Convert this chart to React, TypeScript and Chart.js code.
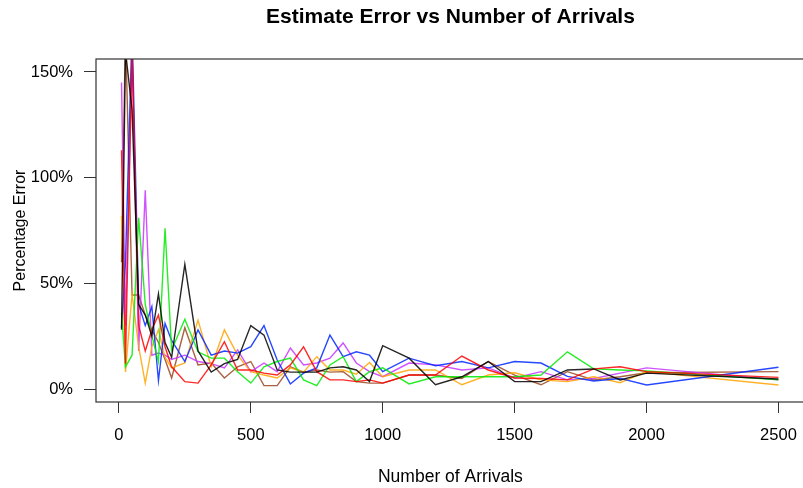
import { useEffect, useRef } from 'react';
import { Chart, registerables } from 'chart.js';

Chart.register(...registerables);

const arrivals = [
  10, 25, 50, 75, 100, 125, 150, 175, 200, 250, 300, 350, 400, 450, 500, 550, 600, 650,
  700, 750, 800, 850, 900, 950, 1000, 1100, 1200, 1300, 1400, 1500, 1600, 1700, 1800,
  1900, 2000, 2500,
];

const blackErr = [
  28, 160, 132, 40, 35, 25, 45, 22, 15, 59, 18, 8, 12, 14, 30, 25.5, 9, 8, 8, 8, 10, 10.5, 9,
  3.5, 20.5, 14.6, 2, 5.8, 13, 3.5, 3.5, 9, 9.5, 4.3, 7.5, 4.7,
];
const redErr = [
  113, 12, 160, 30, 18, 28, 35, 20, 10.5, 3.5, 2.8, 11.4, 22.4, 9, 9, 7.5, 6.6, 11.4, 20, 8.2,
  4.3, 4.3, 3.5, 4.3, 2.8, 6.6, 6.6, 15.6, 9, 5.2, 5, 4.3, 9.5, 10.5, 8.2, 5.5,
];
const greenErr = [
  36, 10.5, 16, 81, 40, 25, 13, 76, 18.5, 33, 17.6, 14.6, 14.6, 8.2, 2.8, 10.5, 13, 14.6, 4.3,
  1.6, 11.4, 15.3, 3.5, 8.2, 10, 2.4, 5.8, 5.8, 5.8, 5.8, 6.6, 17.6, 9.5, 9, 8.6, 4.3,
];
const blueErr = [
  29, 60, 170, 40, 30, 39, 4, 31, 23, 13, 28, 16, 18, 17, 20, 30, 13.7, 2.4, 7.5, 10, 25.5,
  15.3, 17.6, 16, 8.2, 14.6, 11, 13, 10, 13, 12.3, 6, 3.8, 5, 1.9, 10.3,
];
const orangeErr = [
  82, 8, 45, 20, 2.8, 20, 28, 15, 10, 12.3, 32.6, 10.5, 28, 16, 8.2, 6.6, 5.2, 10, 8, 15.3, 9,
  9, 7, 12.5, 5.8, 9, 9, 2, 6.6, 7.7, 4.3, 3.5, 5.8, 3, 8.2, 1.9,
];
const purpleErr = [
  145, 30, 160, 18, 94, 16, 17, 16, 14, 16, 13, 12, 10, 18.5, 8.2, 12.3, 8.2, 19.4, 11.4, 12.3,
  14.6, 21.8, 12.3, 8.2, 5.8, 12.3, 11.4, 9, 10, 5.2, 8.2, 4.3, 5, 7.5, 10, 4.3,
];
const brownErr = [
  60, 170, 44.5, 44.5, 35, 28, 22, 14, 5.2, 29, 11.4, 12.3, 5.2, 10.5, 13, 1.6, 1.6, 10.5, 8,
  9, 8, 8.2, 3.5, 2.8, 2.8, 6.6, 6.6, 5, 13, 6.6, 2, 8.2, 4.3, 5.8, 7.7, 8.2,
];

const seriesNames = ['Run 1', 'Run 2', 'Run 3', 'Run 4', 'Run 5', 'Run 6', 'Run 7'];
const seriesValues = [blackErr, redErr, greenErr, blueErr, orangeErr, purpleErr, brownErr];
const seriesColors = [
  'rgba(0,0,0,0.85)',
  'rgba(255,0,0,0.85)',
  'rgba(0,235,0,0.85)',
  'rgba(0,40,255,0.85)',
  'rgba(255,165,0,0.85)',
  'rgba(200,50,255,0.85)',
  'rgba(160,82,45,0.9)',
];

const xTicks = [0, 500, 1000, 1500, 2000, 2500];
const yTicks = [0, 50, 100, 150];

const FONT = "'Liberation Sans', Arial, Helvetica, sans-serif";

export default function App() {
  const ref = useRef<HTMLCanvasElement | null>(null);

  useEffect(() => {
    if (!ref.current) return;
    const boxPlugin = {
      id: 'rbox',
      afterDatasetsDraw(chart: any) {
        const { ctx, chartArea: a } = chart;
        ctx.save();
        ctx.strokeStyle = '#333';
        ctx.lineWidth = 1.2;
        ctx.strokeRect(a.left, a.top, a.right - a.left, a.bottom - a.top);
        ctx.restore();
      },
    };
    const chart = new Chart(ref.current, {
      type: 'line',
      data: {
        datasets: seriesValues.map((vals, i) => ({
          label: seriesNames[i],
          data: arrivals.map((x, j) => ({ x, y: vals[j] })),
          borderColor: seriesColors[i],
          backgroundColor: seriesColors[i],
          borderWidth: 1.4,
          pointRadius: 0,
          tension: 0,
          fill: false,
        })),
      },
      plugins: [boxPlugin],
      options: {
        responsive: false,
        animation: false,
        layout: { padding: { left: 0, right: 1.5, top: 0, bottom: 0 } },
        plugins: {
          legend: { display: false },
          tooltip: { enabled: false },
          title: {
            display: true,
            fullSize: false,
            text: 'Estimate Error vs Number of Arrivals',
            color: '#000',
            font: { family: FONT, size: 21, weight: 'bold' },
            padding: { top: 5, bottom: 28.8 },
          },
        },
        scales: {
          x: {
            type: 'linear',
            min: -86.7,
            max: 2600,
            afterBuildTicks: (s: any) => {
              s.ticks = xTicks.map((v) => ({ value: v }));
            },
            afterFit: (s: any) => {
              s.height = 86;
            },
            border: { display: false },
            grid: { drawOnChartArea: false, drawTicks: true, tickLength: 11, color: '#333', lineWidth: 1 },
            ticks: {
              color: '#000',
              font: { family: FONT, size: 16.5 },
              padding: 13,
              maxRotation: 0,
              autoSkip: false,
              callback: (v: any) => String(v),
            },
            title: {
              display: true,
              text: 'Number of Arrivals',
              color: '#000',
              font: { family: FONT, size: 17.5 },
              padding: { top: 0, bottom: 0.5 },
            },
          },
          y: {
            type: 'linear',
            min: -6.15,
            max: 156.15,
            afterBuildTicks: (s: any) => {
              s.ticks = yTicks.map((v) => ({ value: v }));
            },
            afterFit: (s: any) => {
              s.width = 96;
            },
            border: { display: false },
            grid: { drawOnChartArea: false, drawTicks: true, tickLength: 12, color: '#333', lineWidth: 1 },
            ticks: {
              color: '#000',
              font: { family: FONT, size: 16.5 },
              padding: 11,
              autoSkip: false,
              callback: (v: any) => `${v}%`,
            },
            title: {
              display: true,
              text: 'Percentage Error',
              color: '#000',
              font: { family: FONT, size: 16 },
              padding: { top: 10.5, bottom: 0 },
            },
          },
        },
      },
    } as any);
    return () => chart.destroy();
  }, []);

  return (
    <div
      style={{
        position: 'fixed',
        left: 0,
        top: 0,
        width: 803,
        height: 488,
        overflow: 'hidden',
        background: '#fff',
      }}
    >
      <canvas ref={ref} width={810} height={488} style={{ display: 'block', width: 810, height: 488 }} />
    </div>
  );
}
